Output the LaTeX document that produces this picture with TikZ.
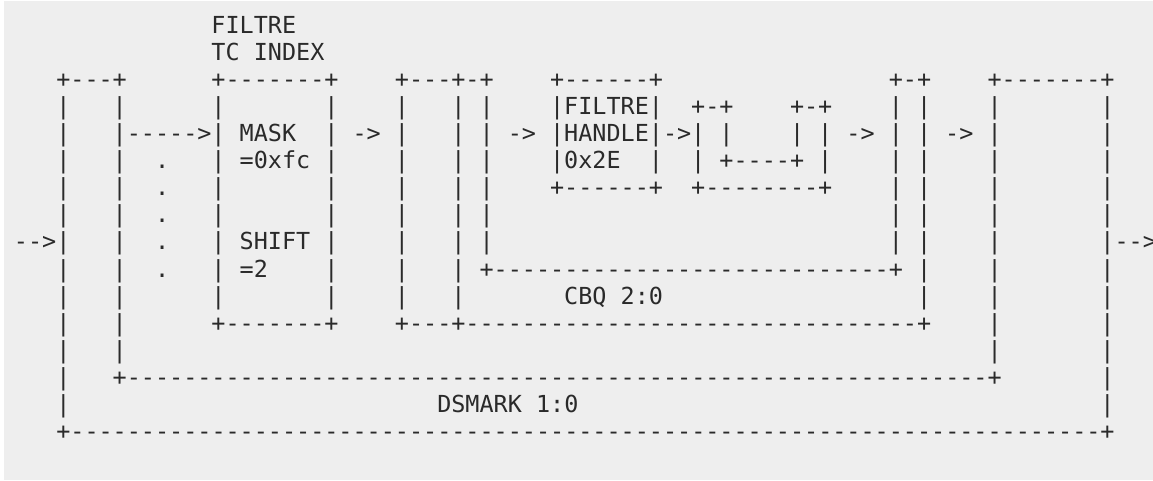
\documentclass[tikz,border=0pt]{standalone}
\usepackage{fontspec}
\setmonofont{DejaVu Sans Mono}
\ExplSyntaxOn
\cs_new:Npn \Rep #1#2 { \prg_replicate:nn {#1} {#2} }
\ExplSyntaxOff
\definecolor{bgc}{HTML}{EEEEEE}
\definecolor{ink}{HTML}{2A2A2A}
\tikzset{asc/.style={font=\ttfamily\fontsize{23.44}{27}\selectfont, inner sep=0pt, outer sep=0pt, anchor=base west, text=ink}}
% place a run of characters at (row, column) of the character grid
\newcommand\Cell[3]{\node[asc] (r#1c#2) at ({13.95+14.11*#2},{33.3+27.08*#1}) {#3};}
\begin{document}
\begin{tikzpicture}[x=1pt,y=-1pt]
\useasboundingbox (0,0) rectangle (1153,481);
\fill[bgc] (4,1) rectangle (1153,480);
% row 0-1
\Cell{0}{14}{FILTRE}
\Cell{1}{14}{TC INDEX}
% row 2
\Cell{2}{3}{+---+}
\Cell{2}{14}{+\Rep{7}{-}+}
\Cell{2}{27}{+---+-+}
\Cell{2}{38}{+\Rep{6}{-}+}
\Cell{2}{62}{+-+}
\Cell{2}{69}{+\Rep{7}{-}+}
% row 3
\Cell{3}{3}{|}\Cell{3}{7}{|}\Cell{3}{14}{|}\Cell{3}{22}{|}
\Cell{3}{27}{|}\Cell{3}{31}{|}\Cell{3}{33}{|}
\Cell{3}{38}{|FILTRE|}
\Cell{3}{48}{+-+}\Cell{3}{55}{+-+}
\Cell{3}{62}{|}\Cell{3}{64}{|}\Cell{3}{69}{|}\Cell{3}{77}{|}
% row 4
\Cell{4}{3}{|}\Cell{4}{7}{|\Rep{5}{-}>|}\Cell{4}{16}{MASK}\Cell{4}{22}{|}
\Cell{4}{24}{->}
\Cell{4}{27}{|}\Cell{4}{31}{|}\Cell{4}{33}{|}
\Cell{4}{35}{->}
\Cell{4}{38}{|HANDLE|->|}\Cell{4}{50}{|}
\Cell{4}{55}{|}\Cell{4}{57}{|}
\Cell{4}{59}{->}
\Cell{4}{62}{|}\Cell{4}{64}{|}
\Cell{4}{66}{->}
\Cell{4}{69}{|}\Cell{4}{77}{|}
% row 5
\Cell{5}{3}{|}\Cell{5}{7}{|}\Cell{5}{10}{.}\Cell{5}{14}{|}\Cell{5}{16}{=0xfc}\Cell{5}{22}{|}
\Cell{5}{27}{|}\Cell{5}{31}{|}\Cell{5}{33}{|}
\Cell{5}{38}{|0x2E}\Cell{5}{45}{|}
\Cell{5}{48}{|}\Cell{5}{50}{+\Rep{4}{-}+}\Cell{5}{57}{|}
\Cell{5}{62}{|}\Cell{5}{64}{|}\Cell{5}{69}{|}\Cell{5}{77}{|}
% row 6
\Cell{6}{3}{|}\Cell{6}{7}{|}\Cell{6}{10}{.}\Cell{6}{14}{|}\Cell{6}{22}{|}
\Cell{6}{27}{|}\Cell{6}{31}{|}\Cell{6}{33}{|}
\Cell{6}{38}{+\Rep{6}{-}+}
\Cell{6}{48}{+\Rep{8}{-}+}
\Cell{6}{62}{|}\Cell{6}{64}{|}\Cell{6}{69}{|}\Cell{6}{77}{|}
% row 7
\Cell{7}{3}{|}\Cell{7}{7}{|}\Cell{7}{10}{.}\Cell{7}{14}{|}\Cell{7}{22}{|}
\Cell{7}{27}{|}\Cell{7}{31}{|}\Cell{7}{33}{|}
\Cell{7}{62}{|}\Cell{7}{64}{|}\Cell{7}{69}{|}\Cell{7}{77}{|}
% row 8
\Cell{8}{0}{-->|}\Cell{8}{7}{|}\Cell{8}{10}{.}\Cell{8}{14}{|}\Cell{8}{16}{SHIFT}\Cell{8}{22}{|}
\Cell{8}{27}{|}\Cell{8}{31}{|}\Cell{8}{33}{|}
\Cell{8}{62}{|}\Cell{8}{64}{|}\Cell{8}{69}{|}\Cell{8}{77}{|-->}
% row 9
\Cell{9}{3}{|}\Cell{9}{7}{|}\Cell{9}{10}{.}\Cell{9}{14}{|}\Cell{9}{16}{=2}\Cell{9}{22}{|}
\Cell{9}{27}{|}\Cell{9}{31}{|}
\Cell{9}{33}{+\Rep{28}{-}+}
\Cell{9}{64}{|}\Cell{9}{69}{|}\Cell{9}{77}{|}
% row 10
\Cell{10}{3}{|}\Cell{10}{7}{|}\Cell{10}{14}{|}\Cell{10}{22}{|}
\Cell{10}{27}{|}\Cell{10}{31}{|}
\Cell{10}{39}{CBQ 2:0}
\Cell{10}{64}{|}\Cell{10}{69}{|}\Cell{10}{77}{|}
% row 11
\Cell{11}{3}{|}\Cell{11}{7}{|}
\Cell{11}{14}{+\Rep{7}{-}+}
\Cell{11}{27}{+---+\Rep{32}{-}+}
\Cell{11}{69}{|}\Cell{11}{77}{|}
% row 12
\Cell{12}{3}{|}\Cell{12}{7}{|}\Cell{12}{69}{|}\Cell{12}{77}{|}
% row 13
\Cell{13}{3}{|}
\Cell{13}{7}{+\Rep{61}{-}+}
\Cell{13}{77}{|}
% row 14
\Cell{14}{3}{|}
\Cell{14}{30}{DSMARK 1:0}
\Cell{14}{77}{|}
% row 15
\Cell{15}{3}{+\Rep{73}{-}+}
\end{tikzpicture}
\end{document}
